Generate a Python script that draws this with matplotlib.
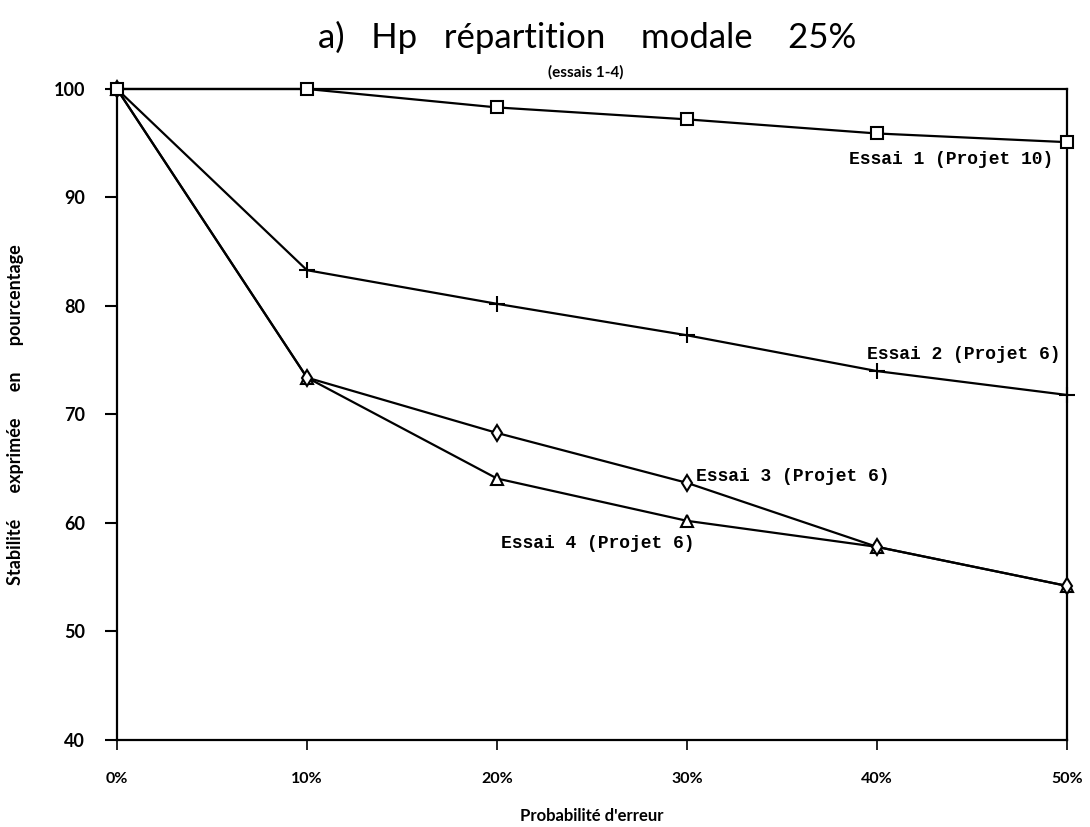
import matplotlib
matplotlib.use("Agg")
import matplotlib.pyplot as plt

# Error probability (%) on the x axis
probabilites = [0, 10, 20, 30, 40, 50]
x_labels = ["0%", "10%", "20%", "30%", "40%", "50%"]

# Stability (%) for each trial
essai1 = [100, 100, 98.3, 97.2, 95.9, 95.1]
essai2 = [100, 83.3, 80.2, 77.3, 74.0, 71.8]
essai3 = [100, 73.4, 68.3, 63.7, 57.8, 54.2]
essai4 = [100, 73.4, 64.1, 60.2, 57.8, 54.2]

y_ticks = [40, 50, 60, 70, 80, 90, 100]

sans = ["Lato", "DejaVu Sans"]
mono = ["Liberation Mono", "DejaVu Sans Mono"]

fig = plt.figure(figsize=(10.9, 8.27), dpi=100)
ax = fig.add_axes([0.1073, 0.1052, 0.8716, 0.7872])

line_kw = dict(color="black", linewidth=1.6, markerfacecolor="white",
               markeredgecolor="black", markeredgewidth=1.5, clip_on=False, zorder=3)
ax.plot(probabilites, essai4, marker="^", markersize=8, **line_kw)
ax.plot(probabilites, essai3, marker="d", markersize=8, **line_kw)
ax.plot(probabilites, essai2, marker="+", markersize=11, **line_kw)
ax.plot(probabilites, essai1, marker="s", markersize=8, **line_kw)

ax.set_xlim(0, 50)
ax.set_ylim(40, 100)
ax.set_xticks(probabilites)
ax.set_xticklabels(x_labels)
ax.set_yticks(y_ticks)

for side in ax.spines.values():
    side.set_linewidth(1.6)
    side.set_color("black")

ax.tick_params(axis="y", direction="out", length=9, width=1.5, pad=14,
               labelsize=13)
ax.tick_params(axis="x", direction="out", length=7, width=1.2, pad=16,
               labelsize=11.5)
for lab in ax.get_yticklabels() + ax.get_xticklabels():
    lab.set_family(sans)
    lab.set_fontweight("bold")

ax.set_xlabel("Probabilité d'erreur", family=sans, fontsize=12,
              fontweight="bold", labelpad=16)
ax.set_ylabel("Stabilité      exprimée      en      pourcentage", family=sans,
              fontsize=13, fontweight="bold", labelpad=21)

fig.text(0.5385, 0.955, "a)   Hp   répartition    modale    25%", family=sans,
         fontsize=25, ha="center", va="center")
fig.text(0.537, 0.912, "(essais 1-4)", family=sans, fontsize=11,
         fontweight="bold", ha="center", va="center")

txt_kw = dict(family=mono, fontsize=13, fontweight="bold", va="center")
ax.text(49.3, 93.5, "Essai 1 (Projet 10)", ha="right", **txt_kw)
ax.text(39.5, 75.5, "Essai 2 (Projet 6)", ha="left", **txt_kw)
ax.text(30.5, 64.3, "Essai 3 (Projet 6)", ha="left", **txt_kw)
ax.text(20.2, 58.1, "Essai 4 (Projet 6)", ha="left", **txt_kw)

fig.savefig("out.png", dpi=100, facecolor="white")
